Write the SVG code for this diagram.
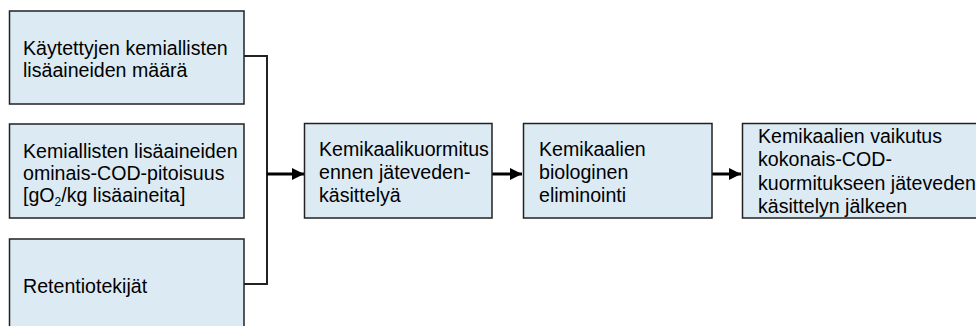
<svg xmlns="http://www.w3.org/2000/svg" width="976" height="326" viewBox="0 0 976 326">
<style>
.box{fill:#dceaf3;stroke:#222;stroke-width:1.5}
.t{font-family:"Liberation Sans",Arial,sans-serif;font-size:19.6px;fill:#000}
.br{fill:none;stroke:#222;stroke-width:2}
.ar{fill:none;stroke:#000;stroke-width:3}
</style>
<defs>
<marker id="ah" viewBox="0 0 10 10" refX="10" refY="5" markerWidth="5" markerHeight="4" orient="auto" markerUnits="strokeWidth">
<path d="M0,0 L10,5 L0,10 Z" fill="#000"/>
</marker>
</defs>
<rect width="976" height="326" fill="#fff"/>
<g id="connectors">
<path class="br" d="M244,56 H267 V284 H244"/>
<line class="ar" x1="267" y1="174" x2="304" y2="174" marker-end="url(#ah)"/>
<line class="ar" x1="492" y1="174" x2="522" y2="174" marker-end="url(#ah)"/>
<line class="ar" x1="712" y1="174" x2="741" y2="174" marker-end="url(#ah)"/>
</g>
<g id="n1">
<rect class="box" x="9.5" y="11" width="234.5" height="93"/>
<text class="t" x="23" y="55">Käytettyjen kemiallisten</text>
<text class="t" x="23" y="77">lisäaineiden määrä</text>
</g>
<g id="n2">
<rect class="box" x="9.5" y="124" width="234.5" height="94"/>
<text class="t" x="23" y="158">Kemiallisten lisäaineiden</text>
<text class="t" x="23" y="180">ominais-COD-pitoisuus</text>
<text class="t" x="23" y="202">[gO<tspan font-size="12" dy="4">2</tspan><tspan dy="-4">/kg lisäaineita]</tspan></text>
</g>
<g id="n3">
<rect class="box" x="9.5" y="239" width="234.5" height="100"/>
<text class="t" x="23" y="293">Retentiotekijät</text>
</g>
<g id="n4">
<rect class="box" x="304.5" y="123.5" width="187.5" height="94.5"/>
<text class="t" x="319" y="156">Kemikaalikuormitus</text>
<text class="t" x="319" y="179">ennen jäteveden-</text>
<text class="t" x="319" y="202">käsittelyä</text>
</g>
<g id="n5">
<rect class="box" x="523.5" y="123.5" width="188.5" height="94.5"/>
<text class="t" x="539" y="156">Kemikaalien</text>
<text class="t" x="539" y="179">biologinen</text>
<text class="t" x="539" y="202">eliminointi</text>
</g>
<g id="n6">
<rect class="box" x="742.5" y="123.5" width="250" height="94.5"/>
<text class="t" x="758" y="143">Kemikaalien vaikutus</text>
<text class="t" x="758" y="166">kokonais-COD-</text>
<text class="t" x="758" y="189.5">kuormitukseen jäteveden</text>
<text class="t" x="758" y="213">käsittelyn jälkeen</text>
</g>
</svg>
